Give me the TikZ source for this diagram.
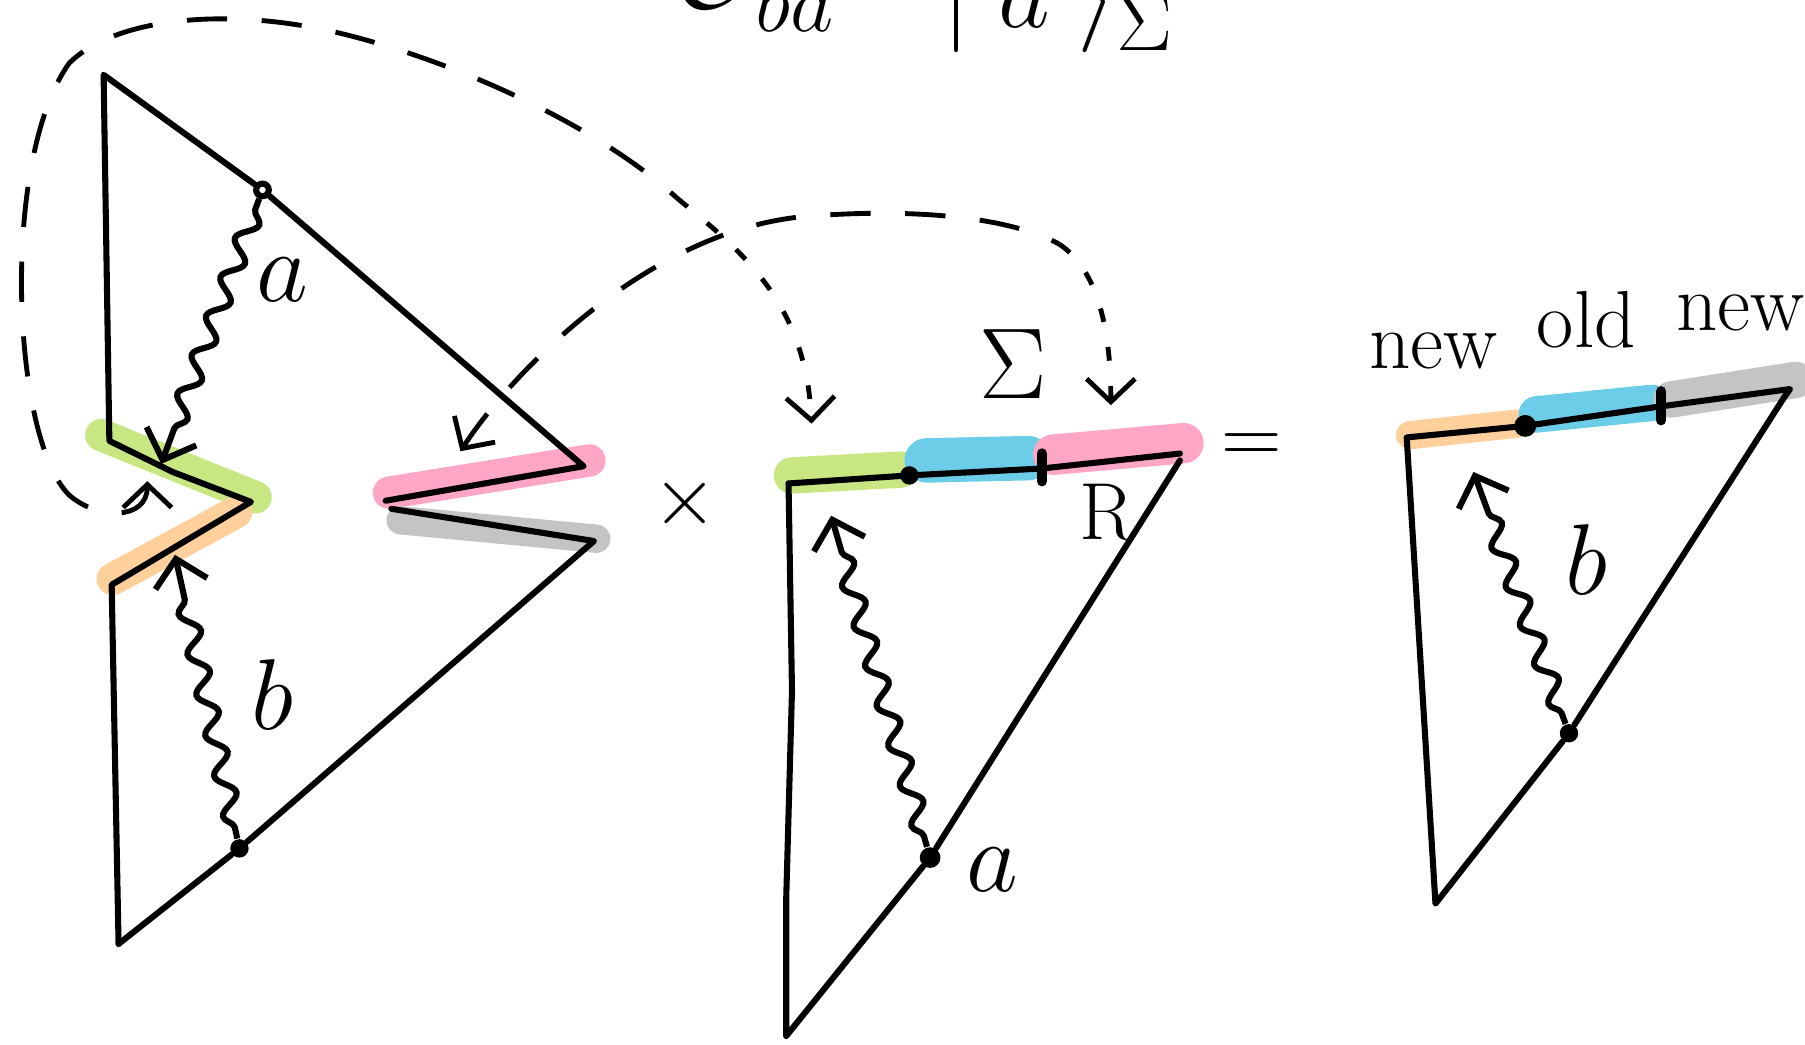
\documentclass[tikz,border=0pt]{standalone}
\usetikzlibrary{arrows.meta,decorations.pathmorphing}
\definecolor{hlgreen}{RGB}{200,230,130}
\definecolor{hlorange}{RGB}{255,208,155}
\definecolor{hlpink}{RGB}{255,165,197}
\definecolor{hlblue}{RGB}{108,205,232}
\definecolor{hlgray}{RGB}{196,196,196}
\tikzset{
  edge/.style={line width=1.5pt, line cap=round, line join=round},
  hl/.style={line width=#1, line cap=round, line join=round},
  tick/.style={line width=2.6pt, line cap=round},
  dotn/.style={circle, fill, inner sep=0pt, minimum size=1.6mm},
  opendot/.style={circle, draw, line width=1.5pt, inner sep=0pt, minimum size=1.1mm},
  wavy/.style={line width=1.5pt, -{Straight Barb[length=2.2mm,width=4.6mm]},
    decorate, decoration={snake, amplitude=0.8mm, segment length=3.6mm,
    pre length=1mm, post length=2.5mm}},
  glue/.style={line width=1.2pt, dash pattern=on 3.5mm off 3mm},
  gluedot/.style={line width=1.2pt, dash pattern=on 1.2mm off 2.2mm},
  barb/.tip={Straight Barb[length=2mm,width=4.2mm]},
  lbl/.style={font=\fontsize{28}{32}\selectfont},
  word/.style={font=\fontsize{20}{24}\selectfont},
}
\begin{document}
\begin{tikzpicture}[x=0.01cm,y=-0.01cm]
\useasboundingbox (0,0) rectangle (1568,907);

\node[lbl, anchor=base west] (op) at (574,7) {$\mathcal{O}_{ba}$};
\node[lbl, anchor=base west] (ket) at (806,24) {$|\;a\;\rangle_{\Sigma}$};

\draw[hl=8pt, hlgreen] (88,378) -- (150,403) -- (222,432);
\draw[hl=8pt, hlorange] (98,503) -- (205,445);
\draw[hl=8pt, hlpink] (338,428) -- (512,400);
\draw[hl=7pt, hlgray] (348,452) -- (518,468);
\draw[hl=9pt, hlgreen] (688,413) -- (782,408);
\draw[hl=11pt, hlblue] (805,400) -- (893,398);
\draw[hl=10pt, hlpink] (915,395) -- (1028,385);
\draw[hl=7pt, hlorange] (1225,378) -- (1318,368);
\draw[hl=9pt, hlblue] (1335,360) -- (1435,350);
\draw[hl=9pt, hlgray] (1452,347) -- (1560,330);

\coordinate (T1) at (90,65);
\coordinate (G1) at (95,383);
\coordinate (V1) at (218,436);
\coordinate (O1) at (97,508);
\coordinate (B1) at (103,820);
\coordinate (P1) at (335,435);
\coordinate (P2) at (507,405);
\coordinate (S1) at (340,442);
\coordinate (S2) at (516,470);
\node[opendot] (a1) at (228,165) {};
\node[dotn] (b1) at (208,737) {};
\draw[edge] (B1) -- (O1) -- (V1) -- (150,410) -- (G1) -- (T1) -- (a1) -- (P2) -- (P1);
\draw[edge] (S1) -- (S2) -- (b1) -- (B1);

\coordinate (M1) at (685,420);
\node[dotn] (m1) at (790,413) {};
\coordinate (m2) at (905,407);
\coordinate (M2) at (1025,394);
\coordinate (M3) at (683,900);
\node[dotn, minimum size=1.8mm] (a2) at (808,745) {};
\draw[edge] (M1) -- (m1.center) -- (m2) -- (M2);
\draw[edge] (M1) -- (688,600) -- (683,780) -- (M3) -- (a2) -- (1025,400);
\draw[tick] ([yshift=1.3mm]m2) -- ([yshift=-1.1mm]m2);

\coordinate (R1) at (1222,380);
\node[dotn, minimum size=1.9mm] (r1) at (1325,370) {};
\coordinate (r2) at (1443,353);
\coordinate (R2) at (1555,338);
\coordinate (R3) at (1247,785);
\node[dotn] (b2) at (1363,637) {};
\draw[edge] (R1) -- (r1.center) -- (r2) -- (R2) -- (1550,345) -- (b2) -- (R3) -- (R1);
\draw[tick] ([yshift=1.3mm]r2) -- ([yshift=-1.2mm]r2);

\coordinate (ta1) at (140,403);
\coordinate (tb1) at (152,482);
\coordinate (ta2) at (722,448);
\coordinate (tb2) at (1280,410);
\draw[wavy] (a1) -- (ta1);
\draw[wavy] (b1) -- (tb1);
\draw[wavy] (a2) -- (ta2);
\draw[wavy] (b2) -- (tb2);

\coordinate (gS) at (128,418);
\coordinate (gM) at (588,172);
\coordinate (gE) at (705,368);
\draw[glue, barb-] (gS) .. controls (128,452) and (85,452) .. (60,430)
  .. controls (10,380) and (0,140) .. (60,55)
  .. controls (100,15) and (200,5) .. (300,30)
  .. controls (400,55) and (520,110) .. (gM);
\draw[gluedot, -barb] (gM) .. controls (640,215) and (700,260) .. (gE);

\coordinate (pS) at (400,392);
\coordinate (pM) at (920,212);
\coordinate (pE) at (965,352);
\draw[glue, barb-] (pS) .. controls (440,330) and (560,200) .. (700,188)
  .. controls (800,180) and (880,190) .. (pM);
\draw[gluedot, -barb] (pM) .. controls (955,235) and (965,290) .. (pE);

\node[lbl] (la1) at (245,243) {$a$};
\node[lbl] (lb1) at (237,603) {$b$};
\node[lbl] (la2) at (862,756) {$a$};
\node[word] (lR) at (962,445) {R};
\node[lbl] (lS) at (880,316) {$\Sigma$};
\node[lbl] (lb2) at (1378,486) {$b$};
\node[word] (n1) at (1245,305) {new};
\node[word] (n2) at (1378,278) {old};
\node[word] (n3) at (1512,272) {new};
\node[word] (times) at (595,437) {$\times$};
\node[word] (eq) at (1087,390) {$=$};
\end{tikzpicture}
\end{document}
